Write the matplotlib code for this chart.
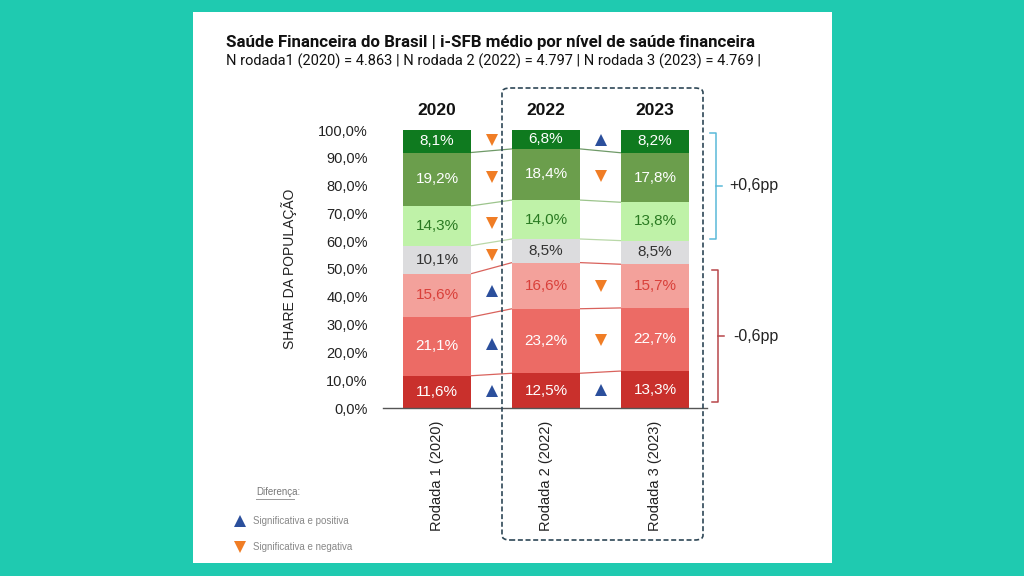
import matplotlib
matplotlib.use("Agg")
import matplotlib.pyplot as plt
from matplotlib.patches import Rectangle, FancyBboxPatch
import numpy as np

# ---------------- data ----------------
years = ["2020", "2022", "2023"]
rounds = ["Rodada 1 (2020)", "Rodada 2 (2022)", "Rodada 3 (2023)"]
# segments from bottom to top
seg_names = ["red_dark", "red_mid", "red_light", "grey", "green_light", "green_mid", "green_dark"]
values = {
    "2020": [11.6, 21.1, 15.6, 10.1, 14.3, 19.2, 8.1],
    "2022": [12.5, 23.2, 16.6, 8.5, 14.0, 18.4, 6.8],
    "2023": [13.3, 22.7, 15.7, 8.5, 13.8, 17.8, 8.2],
}
# significance markers between consecutive rounds (bottom to top): 1 up, -1 down, 0 none
diff_2020_2022 = [1, 1, 1, -1, -1, -1, -1]
diff_2022_2023 = [1, -1, -1, 0, 0, -1, 1]
yticks = [0, 10, 20, 30, 40, 50, 60, 70, 80, 90, 100]
bracket_labels = ["+0,6pp", "-0,6pp"]

title = "Saúde Financeira do Brasil | i-SFB médio por nível de saúde financeira"
subtitle = "N rodada1 (2020) = 4.863 | N rodada 2 (2022) = 4.797 | N rodada 3 (2023) = 4.769 |"

# ---------------- styles ----------------
seg_colors = ["#c9302c", "#ec6b65", "#f3a19b", "#dcdcde", "#bff2a8", "#6b9e4c", "#0f7a1f"]
text_colors = ["white", "white", "#d9403a", "#333333", "#2a7a22", "white", "white"]
line_colors = ["#d9625c", "#d9625c", "#d9625c", "#b9d8a8", "#9cc48c", "#6f9a68"]
teal = "#1fcab0"
FONT = "Liberation Sans"
plt.rcParams["font.family"] = [FONT, "DejaVu Sans"]

W, H = 1024, 576
fig = plt.figure(figsize=(W / 100, H / 100), dpi=100, facecolor=teal)

def fx(px):
    return px / W

def fy(py):
    return 1 - py / H

# white panel
fig.patches.append(Rectangle((fx(193), fy(563)), fx(832) - fx(193), fy(12) - fy(563),
                             transform=fig.transFigure, facecolor="white", edgecolor="none", zorder=-5))

# axes placement
ax_l, ax_r, ax_b, ax_t = 383, 707, 408, 130
ax = fig.add_axes([fx(ax_l), fy(ax_b), fx(ax_r) - fx(ax_l), fy(ax_t) - fy(ax_b)])
ax.set_zorder(1)
ax.set_facecolor("none")
spacing = 109.0
xl = 0 - (437 - ax_l) / spacing
xr = 2 + (ax_r - 655) / spacing
ax.set_xlim(xl, xr)
ax.set_ylim(0, 100)

bw = 68 / spacing
x = np.arange(len(years))
cums = []
for i, yr in enumerate(years):
    vals = values[yr]
    bottom = 0
    cum = []
    for j, v in enumerate(vals):
        ax.bar(x[i], v, bottom=bottom, width=bw, color=seg_colors[j], edgecolor="none", zorder=2)
        ax.text(x[i], bottom + v / 2, f"{v:.1f}%".replace(".", ","), ha="center", va="center",
                fontsize=11, color=text_colors[j], zorder=4)
        bottom += v
        cum.append(bottom)
    cums.append(cum)

# connector lines between boundaries
for i in range(len(years) - 1):
    for k in range(len(seg_names) - 1):
        ax.plot([x[i] + bw / 2, x[i + 1] - bw / 2], [cums[i][k], cums[i + 1][k]],
                color=line_colors[k], lw=0.9, zorder=1, solid_capstyle="butt")

# significance markers
for i, diffs in enumerate([diff_2020_2022, diff_2022_2023]):
    xm = (x[i] + x[i + 1]) / 2
    for k, d in enumerate(diffs):
        if d == 0:
            continue
        b0 = cums[i][k] - values[years[i]][k]
        b1 = cums[i + 1][k] - values[years[i + 1]][k]
        yc = ((b0 + cums[i][k]) / 2 + (b1 + cums[i + 1][k]) / 2) / 2
        ax.plot(xm, yc, marker="^" if d > 0 else "v", ms=8.5, mew=0,
                color="#2b4f9c" if d > 0 else "#f07d25", zorder=3, clip_on=False)

# axis styling
for s in ["top", "right", "left"]:
    ax.spines[s].set_visible(False)
ax.spines["bottom"].set_color("#555555")
ax.spines["bottom"].set_linewidth(1.0)
ax.set_yticks(yticks)
ax.set_yticklabels([f"{t:.1f}%".replace(".", ",") for t in yticks], fontsize=10.5, color="#222222")
ax.tick_params(axis="y", length=0, pad=11)
ax.set_xticks(x)
ax.set_xticklabels(rounds, rotation=90, fontsize=10.5, color="#222222", va="top")
ax.tick_params(axis="x", length=0, pad=9)
ax.set_ylabel("SHARE DA POPULAÇÃO", fontsize=10, color="#222222", labelpad=15)

# year headers
for i, yr in enumerate(years):
    ax.text(x[i], 107, yr, ha="center", va="center", fontsize=12.5, fontweight="bold",
            color="#111111", clip_on=False)

# dashed rounded box around 2022-2023
box = FancyBboxPatch((fx(502), fy(540)), fx(703) - fx(502), fy(88) - fy(540),
                     boxstyle="round,pad=0,rounding_size=0.008", transform=fig.transFigure,
                     facecolor="none", edgecolor="#2e4756", lw=1.2, linestyle=(0, (3, 1.6)), zorder=5)
fig.patches.append(box)

# brackets
def bracket(y0, y1, xpx, color, label, label_x):
    xb = (xpx - 655) / spacing + 2
    hook = 6 / spacing
    ax.plot([xb - hook, xb, xb, xb - hook], [y1, y1, y0, y0], color=color, lw=1.1, clip_on=False)
    ym = (y0 + y1) / 2
    ax.plot([xb, xb + hook], [ym, ym], color=color, lw=1.1, clip_on=False)
    ax.text((label_x - 655) / spacing + 2, ym, label, ha="left", va="center", fontsize=11.5,
            color="#222222", clip_on=False)

c23 = cums[2]
bracket(c23[3] + 0.6, c23[6] - 1.0, 716, "#5ab9d9", bracket_labels[0], 729)
bracket(c23[2] - 2.0, 2.0, 718, "#b8474a", bracket_labels[1], 733)

# titles
fig.text(fx(226), fy(42), title, ha="left", va="center", fontsize=12.2, fontweight="bold",
         color="#111111", family=["Roboto", "DejaVu Sans"])
fig.text(fx(226), fy(61), subtitle, ha="left", va="center", fontsize=10.5,
         color="#111111", family=["Roboto", "DejaVu Sans"])

# legend
fig.text(fx(256), fy(492), "Diferença:", ha="left", va="center", fontsize=7, color="#777777")
fig.add_artist(plt.Line2D([fx(256), fx(294)], [fy(499), fy(499)], color="#999999", lw=0.7,
                          transform=fig.transFigure))
fig.add_artist(plt.Line2D([fx(240)], [fy(521)], marker="^", ms=9, mew=0, color="#2b4f9c",
                          transform=fig.transFigure))
fig.text(fx(253), fy(521), "Significativa e positiva", ha="left", va="center", fontsize=7, color="#888888")
fig.add_artist(plt.Line2D([fx(240)], [fy(547)], marker="v", ms=9, mew=0, color="#f07d25",
                          transform=fig.transFigure))
fig.text(fx(253), fy(547), "Significativa e negativa", ha="left", va="center", fontsize=7, color="#888888")

fig.savefig("out.png", dpi=100, facecolor=teal)
